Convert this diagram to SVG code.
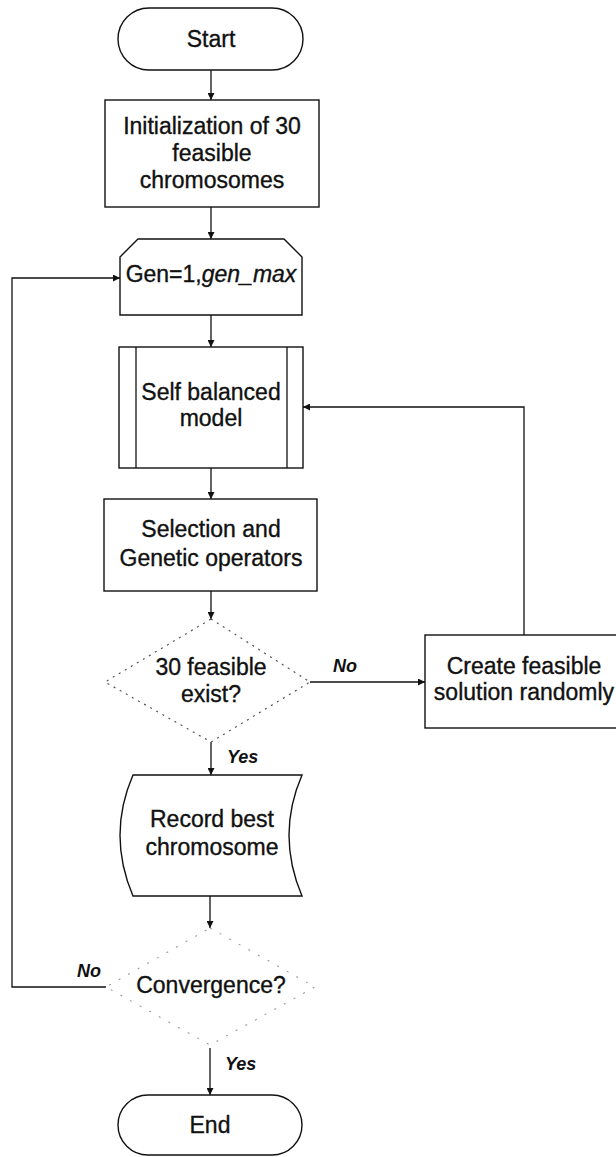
<svg xmlns="http://www.w3.org/2000/svg" width="616" height="1157" viewBox="0 0 616 1157">
  <style>
    .shape { fill: #ffffff; stroke: #111111; stroke-width: 1.4; }
    .decision { fill: none; stroke: #555555; stroke-width: 1.2; stroke-dasharray: 2 5; }
    .decision-faint { fill: none; stroke: #9a9a9a; stroke-width: 1.1; stroke-dasharray: 2 9; }
    .label { font-family: "Liberation Sans", Arial, sans-serif; font-size: 23px; fill: #111111; stroke: #111111; stroke-width: 0.35; text-anchor: middle; }
    .branch { font-family: "Liberation Sans", Arial, sans-serif; font-size: 18px; font-weight: bold; font-style: italic; fill: #111111; }
    .flow { fill: none; stroke: #111111; stroke-width: 1.3; }
  </style>
  <defs>
    <marker id="arrow" viewBox="0 0 10 10" refX="10" refY="5" markerWidth="7" markerHeight="7" markerUnits="userSpaceOnUse" orient="auto">
      <path d="M0,0 L10,5 L0,10 Z" fill="#111111"/>
    </marker>
  </defs>

  <rect width="616" height="1157" fill="#ffffff"/>

  <!-- connectors -->
  <g id="connectors">
    <line class="flow" x1="211" y1="70" x2="211" y2="100" marker-end="url(#arrow)"/>
    <line class="flow" x1="211" y1="207" x2="211" y2="239" marker-end="url(#arrow)"/>
    <line class="flow" x1="211" y1="315" x2="211" y2="347" marker-end="url(#arrow)"/>
    <line class="flow" x1="211" y1="468" x2="211" y2="499" marker-end="url(#arrow)"/>
    <line class="flow" x1="211" y1="591" x2="211" y2="619" marker-end="url(#arrow)"/>
    <line class="flow" x1="211" y1="742" x2="211" y2="775" marker-end="url(#arrow)"/>
    <line class="flow" x1="210" y1="896" x2="210" y2="928" marker-end="url(#arrow)"/>
    <line class="flow" x1="210" y1="1048" x2="210" y2="1095" marker-end="url(#arrow)"/>
    <!-- No branch to repair step -->
    <line class="flow" x1="310" y1="682" x2="425" y2="682" marker-end="url(#arrow)"/>
    <!-- repaired solutions re-enter the model -->
    <polyline class="flow" points="524,635 524,407 303,407" marker-end="url(#arrow)"/>
    <!-- loop back to next generation -->
    <polyline class="flow" points="106,987 12,987 12,278 120,278" marker-end="url(#arrow)"/>
    <text class="branch" x="333" y="672">No</text>
    <text class="branch" x="227" y="763">Yes</text>
    <text class="branch" x="77" y="977">No</text>
    <text class="branch" x="225" y="1070">Yes</text>
  </g>

  <g id="start">
    <rect class="shape" x="118" y="8" width="185" height="62" rx="31" ry="31"/>
    <text class="label" x="211" y="47">Start</text>
  </g>

  <g id="init">
    <rect class="shape" x="105" y="100" width="214" height="107"/>
    <text class="label" x="212" y="134">Initialization of 30</text>
    <text class="label" x="212" y="161">feasible</text>
    <text class="label" x="212" y="188">chromosomes</text>
  </g>

  <g id="generation-loop">
    <path class="shape" d="M120,315 V257 L138,239 H284 L302,257 V315 Z"/>
    <text class="label" x="211" y="282">Gen=1,<tspan font-style="italic">gen_max</tspan></text>
  </g>

  <g id="self-balanced-model">
    <rect class="shape" x="119" y="347" width="184" height="121"/>
    <line class="flow" x1="136" y1="347" x2="136" y2="468"/>
    <line class="flow" x1="287" y1="347" x2="287" y2="468"/>
    <text class="label" x="211" y="400">Self balanced</text>
    <text class="label" x="211" y="426">model</text>
  </g>

  <g id="selection">
    <rect class="shape" x="104" y="499" width="213" height="92"/>
    <text class="label" x="211" y="537">Selection and</text>
    <text class="label" x="211" y="566">Genetic operators</text>
  </g>

  <g id="feasible-check">
    <polygon class="decision" points="211,619 310,682 211,742 105,682"/>
    <text class="label" x="211" y="675">30 feasible</text>
    <text class="label" x="211" y="702">exist?</text>
  </g>

  <g id="create-feasible">
    <rect class="shape" x="425" y="635" width="198" height="93"/>
    <text class="label" x="524" y="674">Create feasible</text>
    <text class="label" x="524" y="700">solution randomly</text>
  </g>

  <g id="record-best">
    <path class="shape" d="M133,775 H302 Q276,835 302,896 H133 Q107,835 133,775 Z"/>
    <text class="label" x="212" y="827">Record best</text>
    <text class="label" x="212" y="855">chromosome</text>
  </g>

  <g id="convergence">
    <polygon class="decision-faint" points="210,928 315,987 210,1045 106,987"/>
    <text class="label" x="211" y="993">Convergence?</text>
  </g>

  <g id="end">
    <rect class="shape" x="118" y="1095" width="184" height="60" rx="30" ry="30"/>
    <text class="label" x="210" y="1133">End</text>
  </g>
</svg>
